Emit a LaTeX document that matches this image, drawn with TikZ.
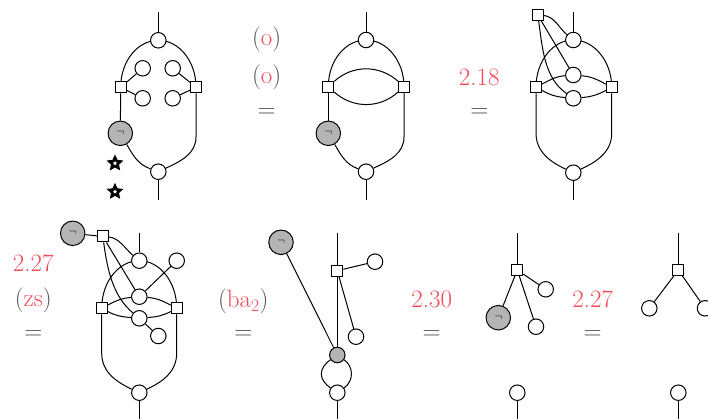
\documentclass[tikz,border=0pt]{standalone}
\usepackage{fontspec}
\usetikzlibrary{shapes.geometric}
\pgfdeclarelayer{bg}
\pgfsetlayers{bg,main}
\definecolor{lred}{RGB}{242,75,85}
\definecolor{lgray}{RGB}{80,80,80}
\definecolor{gfill}{RGB}{180,180,180}
\newcommand\labfont{\fontsize{25}{30}\selectfont}
\newcommand\negfont{\fontsize{13}{13}\selectfont}
\newcommand\pr[1]{\textcolor{lgray}{(}\textcolor{lred}{#1}\textcolor{lgray}{)}}
\begin{document}
\begin{tikzpicture}[x=1pt,y=1pt,line width=1pt,
  every node/.style={inner sep=0pt},
  wc/.style={circle,draw,fill=white,line width=1pt,minimum size=15.5pt},
  gc/.style={circle,draw,fill=gfill,line width=1pt,minimum size=24.5pt,font=\negfont},
  sgc/.style={circle,draw,fill=gfill,line width=1pt,minimum size=15.5pt},
  sq/.style={rectangle,draw,fill=white,line width=1pt,minimum size=11pt},
  lbl/.style={font=\labfont},
  wires/.style={line width=1pt},
  starmark/.style={star,star points=5,star point ratio=2.1,draw,line width=2.6pt,minimum size=11.5pt}
]
\useasboundingbox (0,0) rectangle (708,-419);

% ---------- diagram 1
\coordinate (u1) at (158.3,-11.7);
\coordinate (d1) at (158.3,-200);
\coordinate (k1) at (196,-136.7);
\node[wc] (t1) at (158.3,-40.3) {};
\node[sq] (L1) at (120.7,-87.3) {};
\node[sq] (R1) at (196,-87.3) {};
\node[wc] (p1) at (142.7,-68.3) {};
\node[wc] (q1) at (142.7,-98.3) {};
\node[wc] (r1) at (172.7,-68.3) {};
\node[wc] (s1) at (172.7,-98.3) {};
\node[gc] (g1) at (120.3,-133.3) {$\neg$};
\node[wc] (o1) at (158.3,-171.7) {};
\node[starmark] (st1) at (115,-163.3) {};
\node[starmark] (st2) at (115,-191.7) {};
\begin{pgfonlayer}{bg}\begin{scope}[wires]
\draw (u1) -- (t1);
\draw (o1) -- (d1);
\draw (L1.center) .. controls +(0,26) and +(-20.8,0) .. (t1.center);
\draw (R1.center) .. controls +(0,26) and +(20.8,0) .. (t1.center);
\draw (L1) -- (p1);
\draw (L1) -- (q1);
\draw (R1) -- (r1);
\draw (R1) -- (s1);
\draw (L1) -- (g1);
\draw (g1) to[out=-60,in=160] (o1);
\draw (R1) -- (k1) to[out=-90,in=25] (o1);
\end{scope}\end{pgfonlayer}

% ---------- labels 1-2
\node[lbl] (la1) at (266.7,-39.3) {\pr{o}};
\node[lbl] (la2) at (266.7,-77.3) {\pr{o}};
\node[lbl,text=lgray] (la3) at (266.7,-113.3) {=};

% ---------- diagram 2
\coordinate (u2) at (366,-11.7);
\coordinate (d2) at (366,-200);
\coordinate (k2) at (404,-136.7);
\node[wc] (t2) at (366,-40) {};
\node[sq] (L2) at (328.3,-86.7) {};
\node[sq] (R2) at (404,-86.7) {};
\node[gc] (g2) at (328.3,-133.3) {$\neg$};
\node[wc] (o2) at (366,-171.7) {};
\begin{pgfonlayer}{bg}\begin{scope}[wires]
\draw (u2) -- (t2);
\draw (o2) -- (d2);
\draw (L2.center) .. controls +(0,25.8) and +(-20.8,0) .. (t2.center);
\draw (R2.center) .. controls +(0,25.8) and +(20.8,0) .. (t2.center);
\draw (L2) to[out=42,in=138] (R2);
\draw (L2) to[out=-42,in=-138] (R2);
\draw (L2) -- (g2);
\draw (g2) to[out=-60,in=160] (o2);
\draw (R2) -- (k2) to[out=-90,in=25] (o2);
\end{scope}\end{pgfonlayer}

% ---------- labels 3
\node[lbl,text=lred] (lb1) at (479.3,-77.3) {2.18};
\node[lbl,text=lgray] (lb2) at (479.3,-113.3) {=};

% ---------- diagram 3
\coordinate (u3) at (573.3,-11.7);
\coordinate (d3) at (573.3,-200);
\coordinate (kL3) at (536,-133);
\coordinate (kR3) at (611.7,-133);
\node[sq] (S3) at (537.8,-15) {};
\node[wc] (t3) at (573.3,-40) {};
\node[wc] (m3) at (573.3,-75) {};
\node[wc] (l3) at (573.3,-98.3) {};
\node[sq] (L3) at (536,-87.3) {};
\node[sq] (R3) at (611.7,-87.3) {};
\node[wc] (o3) at (573.3,-172.7) {};
\begin{pgfonlayer}{bg}\begin{scope}[wires]
\draw (u3) -- (t3);
\draw (o3) -- (d3);
\draw (S3) to[out=-5,in=140,looseness=0.9] (t3);
\draw (S3) -- (m3);
\draw (S3) to[out=-82,in=145,looseness=0.9] (l3);
\draw (L3.center) .. controls +(0,26) and +(-20.6,0) .. (t3.center);
\draw (R3.center) .. controls +(0,26) and +(20.9,0) .. (t3.center);
\draw (L3) to[out=28,in=185] (m3);
\draw (L3) to[out=-28,in=175] (l3);
\draw (R3) to[out=152,in=-5] (m3);
\draw (R3) to[out=208,in=5] (l3);
\draw (L3) -- (kL3) to[out=-90,in=155] (o3);
\draw (R3) -- (kR3) to[out=-90,in=25] (o3);
\end{scope}\end{pgfonlayer}

% ---------- labels 4
\node[lbl,text=lred] (lc1) at (33.3,-263.3) {2.27};
\node[lbl] (lc2) at (33.3,-300) {\pr{zs}};
\node[lbl,text=lgray] (lc3) at (33.3,-335) {=};

% ---------- diagram 4
\coordinate (u4) at (139.3,-232.7);
\coordinate (d4) at (139.3,-419);
\coordinate (kL4) at (101.7,-353);
\coordinate (kR4) at (176.7,-353);
\node[gc] (g4) at (72.7,-233.3) {$\neg$};
\node[sq] (S4) at (102.8,-236.5) {};
\node[wc] (t4) at (139.3,-260.7) {};
\node[wc] (tr4) at (176.7,-260.7) {};
\node[wc] (m4) at (139.3,-296.7) {};
\node[wc] (l4) at (139.3,-318.3) {};
\node[wc] (lr4) at (158.3,-336) {};
\node[sq] (L4) at (101.7,-308.3) {};
\node[sq] (R4) at (176.7,-308.3) {};
\node[wc] (o4) at (139.3,-392.7) {};
\begin{pgfonlayer}{bg}\begin{scope}[wires]
\draw (u4) -- (t4);
\draw (o4) -- (d4);
\draw (g4) -- (S4);
\draw (S4) to[out=-5,in=140,looseness=0.9] (t4);
\draw (S4) -- (m4);
\draw (S4) to[out=-82,in=140,looseness=0.9] (l4);
\draw (L4.center) .. controls +(0,26.2) and +(-20.8,0) .. (t4.center);
\draw (R4.center) .. controls +(0,26.2) and +(20.6,0) .. (t4.center);
\draw (L4) to[out=28,in=185] (m4);
\draw (L4) to[out=-28,in=175] (l4);
\draw (R4) to[out=152,in=-5] (m4);
\draw (R4) to[out=208,in=5] (l4);
\draw (m4) -- (tr4);
\draw (l4) -- (lr4);
\draw (L4) -- (kL4) to[out=-90,in=155] (o4);
\draw (R4) -- (kR4) to[out=-90,in=25] (o4);
\end{scope}\end{pgfonlayer}

% ---------- labels 5
\node[lbl] (ld1) at (243.3,-301.7) {\pr{ba\textsubscript{2}}};
\node[lbl,text=lgray] (ld2) at (243.3,-335) {=};

% ---------- diagram 5
\coordinate (u5) at (337.3,-232.7);
\coordinate (d5) at (337.3,-419);
\node[gc] (g5) at (281,-242.3) {$\neg$};
\node[sq] (S5) at (337.3,-270.7) {};
\node[wc] (c5a) at (375,-261.7) {};
\node[wc] (c5b) at (356,-336.7) {};
\node[sgc] (sg5) at (337.3,-355) {};
\node[wc] (o5) at (337.3,-392.7) {};
\begin{pgfonlayer}{bg}\begin{scope}[wires]
\draw (u5) -- (S5) -- (sg5);
\draw (S5) -- (c5a);
\draw (S5) -- (c5b);
\draw (g5) -- (sg5);
\draw (sg5.215) .. controls +(215:15) and +(145:15) .. (o5.145);
\draw (sg5.-35) .. controls +(-35:12) and +(35:12) .. (o5.35);
\draw (o5) -- (d5);
\end{scope}\end{pgfonlayer}

% ---------- labels 6
\node[lbl,text=lred] (le1) at (431.7,-299.3) {2.30};
\node[lbl,text=lgray] (le2) at (431.7,-335) {=};

% ---------- diagram 6
\coordinate (u6) at (517.3,-232.7);
\coordinate (d6) at (517.3,-419);
\node[sq] (S6) at (517.3,-270) {};
\node[wc] (c6a) at (545.7,-289.3) {};
\node[gc] (g6) at (498.3,-317.7) {$\neg$};
\node[wc] (c6b) at (536,-326.7) {};
\node[wc] (o6) at (517.3,-392.7) {};
\begin{pgfonlayer}{bg}\begin{scope}[wires]
\draw (u6) -- (S6);
\draw (S6) -- (c6a);
\draw (S6) -- (g6);
\draw (S6) -- (c6b);
\draw (o6) -- (d6);
\end{scope}\end{pgfonlayer}

% ---------- labels 7
\node[lbl,text=lred] (lf1) at (592.7,-299.3) {2.27};
\node[lbl,text=lgray] (lf2) at (592.7,-335) {=};

% ---------- diagram 7
\coordinate (u7) at (678.3,-232.7);
\coordinate (d7) at (678.3,-419);
\node[sq] (S7) at (678.3,-270) {};
\node[wc] (c7a) at (649.3,-308.3) {};
\node[wc] (c7b) at (705,-308.3) {};
\node[wc] (o7) at (678.3,-392.7) {};
\begin{pgfonlayer}{bg}\begin{scope}[wires]
\draw (u7) -- (S7);
\draw (S7) -- (c7a);
\draw (S7) -- (c7b);
\draw (o7) -- (d7);
\end{scope}\end{pgfonlayer}
\end{tikzpicture}
\end{document}
